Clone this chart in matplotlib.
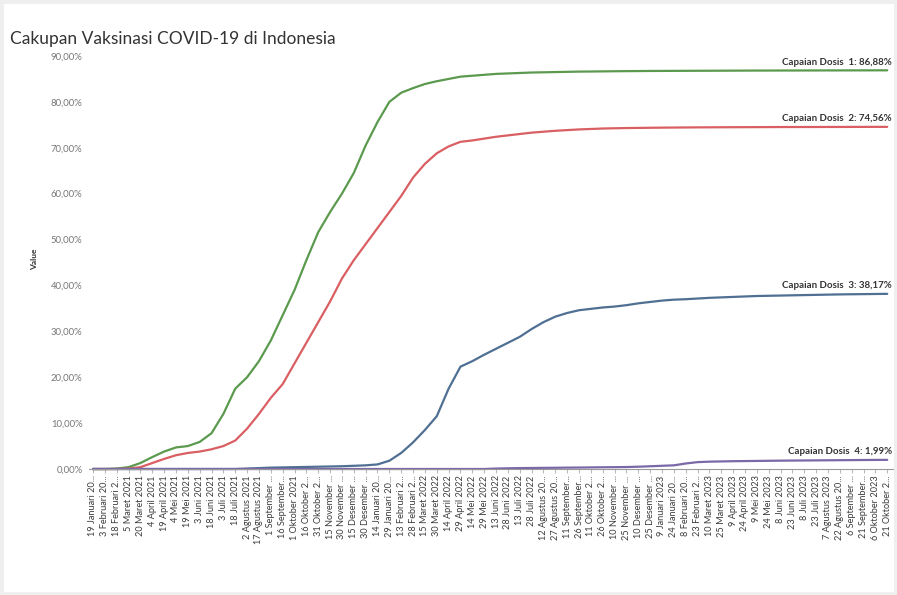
import matplotlib
matplotlib.use("Agg")
import matplotlib.pyplot as plt
from matplotlib.patches import Rectangle

# Tick dates, every 15 days from 19 Januari 2021 (labels truncated as shown on the axis)
tanggal = [
    "19 Januari 20...", "3 Februari 20...", "18 Februari 2...", "5 Maret 2021",
    "20 Maret 2021", "4 April 2021", "19 April 2021", "4 Mei 2021",
    "19 Mei 2021", "3 Juni 2021", "18 Juni 2021", "3 Juli 2021",
    "18 Juli 2021", "2 Agustus 2021", "17 Agustus 2021", "1 September ...",
    "16 September...", "1 Oktober 2021", "16 Oktober 2...", "31 Oktober 2...",
    "15 November ...", "30 November ...", "15 Desember ...", "30 Desember ...",
    "14 Januari 20...", "29 Januari 20...", "13 Februari 2...", "28 Februari 2...",
    "15 Maret 2022", "30 Maret 2022", "14 April 2022", "29 April 2022",
    "14 Mei 2022", "29 Mei 2022", "13 Juni 2022", "28 Juni 2022",
    "13 Juli 2022", "28 Juli 2022", "12 Agustus 20...", "27 Agustus 20...",
    "11 September...", "26 September...", "11 Oktober 2...", "26 Oktober 2...",
    "10 November ...", "25 November ...", "10 Desember ...", "25 Desember ...",
    "9 Januari 2023", "24 Januari 20...", "8 Februari 20...", "23 Februari 2...",
    "10 Maret 2023", "25 Maret 2023", "9 April 2023", "24 April 2023",
    "9 Mei 2023", "24 Mei 2023", "8 Juni 2023", "23 Juni 2023",
    "8 Juli 2023", "23 Juli 2023", "7 Agustus 2023", "22 Agustus 20...",
    "6 September ...", "21 September...", "6 Oktober 2023", "21 Oktober 2...",
]

# Cumulative coverage (%) on each tick date
dosis_1 = [
    0.0, 0.0, 0.1, 0.4, 1.3, 2.6, 3.8, 4.7, 5.0, 5.9, 7.8, 12.0,
    17.5, 20.0, 23.5, 28.0, 33.5, 39.0, 45.5, 51.6, 56.0, 60.0, 64.5, 70.5,
    75.6, 80.0, 82.0, 83.0, 83.9, 84.5, 85.0, 85.5, 85.7, 85.9, 86.1, 86.2,
    86.3, 86.4, 86.45, 86.5, 86.55, 86.6, 86.62, 86.65, 86.68, 86.7, 86.72, 86.74,
    86.75, 86.76, 86.77, 86.78, 86.79, 86.8, 86.81, 86.82, 86.83, 86.83, 86.84, 86.84,
    86.85, 86.85, 86.86, 86.86, 86.87, 86.87, 86.88, 86.88,
]
dosis_2 = [
    0.0, 0.0, 0.0, 0.1, 0.4, 1.3, 2.2, 3.0, 3.5, 3.8, 4.3, 5.0,
    6.2, 8.8, 12.0, 15.5, 18.5, 23.0, 27.5, 32.0, 36.5, 41.5, 45.5, 49.0,
    52.5, 56.0, 59.5, 63.5, 66.5, 68.8, 70.3, 71.3, 71.6, 72.0, 72.4, 72.7,
    73.0, 73.3, 73.5, 73.7, 73.85, 74.0, 74.1, 74.2, 74.25, 74.3, 74.33, 74.36,
    74.39, 74.41, 74.43, 74.45, 74.46, 74.47, 74.48, 74.49, 74.5, 74.51, 74.52, 74.52,
    74.53, 74.53, 74.54, 74.54, 74.55, 74.55, 74.56, 74.56,
]
dosis_3 = [
    0.0, 0.0, 0.0, 0.0, 0.0, 0.0, 0.0, 0.0, 0.0, 0.0, 0.0, 0.0,
    0.0, 0.1, 0.2, 0.3, 0.35, 0.4, 0.45, 0.5, 0.55, 0.6, 0.7, 0.8,
    1.0, 1.8, 3.5, 5.8, 8.5, 11.5, 17.5, 22.3, 23.5, 24.9, 26.2, 27.5,
    28.8, 30.5, 32.0, 33.2, 34.0, 34.6, 34.9, 35.2, 35.4, 35.7, 36.1, 36.4,
    36.7, 36.9, 37.0, 37.15, 37.3, 37.4, 37.5, 37.6, 37.7, 37.75, 37.8, 37.85,
    37.9, 37.95, 38.0, 38.05, 38.08, 38.11, 38.14, 38.17,
]
dosis_4 = [
    0.0, 0.0, 0.0, 0.0, 0.0, 0.0, 0.0, 0.0, 0.0, 0.0, 0.0, 0.0,
    0.0, 0.0, 0.0, 0.0, 0.0, 0.0, 0.0, 0.0, 0.0, 0.0, 0.0, 0.0,
    0.0, 0.0, 0.0, 0.0, 0.0, 0.0, 0.0, 0.0, 0.0, 0.0, 0.1, 0.15,
    0.2, 0.22, 0.25, 0.27, 0.3, 0.32, 0.35, 0.38, 0.4, 0.43, 0.5, 0.6,
    0.7, 0.8, 1.2, 1.5, 1.6, 1.65, 1.7, 1.73, 1.76, 1.79, 1.82, 1.84,
    1.86, 1.88, 1.9, 1.92, 1.94, 1.96, 1.98, 1.99,
]

seri = [
    ("Capaian Dosis  1: 86,88%", dosis_1, "#5b9a4e"),
    ("Capaian Dosis  2: 74,56%", dosis_2, "#d95f63"),
    ("Capaian Dosis  3: 38,17%", dosis_3, "#4f6f93"),
    ("Capaian Dosis  4: 1,99%", dosis_4, "#7a68a8"),
]

plt.rcParams["font.family"] = ["Lato", "DejaVu Sans"]

fig = plt.figure(figsize=(8.97, 5.95), dpi=100)
fig.patch.set_facecolor("white")
# light grey frame around the dashboard panel
fig.add_artist(Rectangle((0, 0), 1, 1, transform=fig.transFigure,
                         fill=False, edgecolor="#efefef", linewidth=5))

ax = fig.add_axes([0.0997, 0.2079, 0.896, 0.7134])
x = list(range(len(tanggal)))

# spine position first: moving it later resets the tick labels
for s in ["top", "right", "left"]:
    ax.spines[s].set_visible(False)
ax.spines["bottom"].set_position(("data", 0))
ax.spines["bottom"].set_color("#999999")
ax.spines["bottom"].set_linewidth(0.8)

for label, nilai, warna in seri:
    ax.plot(x, nilai, color=warna, linewidth=1.6, solid_capstyle="round",
            solid_joinstyle="round")
    ax.annotate(label, xy=(1.0, nilai[-1]), xycoords=("axes fraction", "data"),
                xytext=(-1, 2.5), textcoords="offset points",
                ha="right", va="bottom", fontsize=7, fontweight="bold",
                color="#333333")

ax.set_xlim(-0.3, len(tanggal) - 0.5)
ax.set_ylim(-0.5, 92)

ax.set_yticks(range(0, 91, 10))
ax.set_yticklabels([f"{v},00%" for v in range(0, 91, 10)])
ax.tick_params(axis="y", length=0, labelsize=6.8, labelcolor="#777777", pad=5)

ax.set_xticks(x)
ax.set_xticklabels(tanggal, rotation=90, fontsize=6.6, color="#3a3a3a")
ax.tick_params(axis="x", length=3, color="#bbbbbb", pad=1.5)

ax.set_ylabel("Value", fontsize=6, fontweight="bold", color="#333333", labelpad=9)

fig.text(0.0112, 0.935, "Cakupan Vaksinasi COVID-19 di Indonesia",
         fontsize=12.5, color="#333333", ha="left", va="center")

fig.savefig("out.png", dpi=100, facecolor="white")
